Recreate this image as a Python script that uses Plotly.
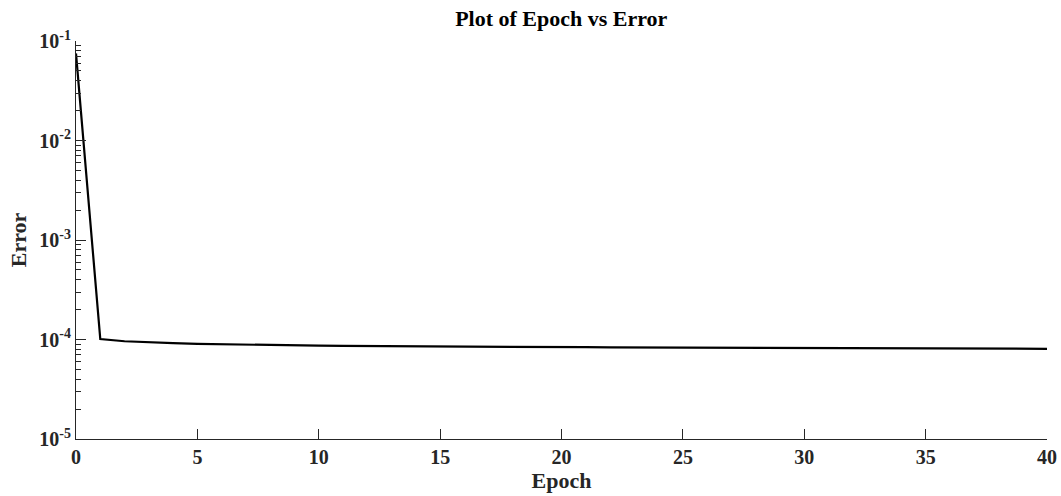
import plotly.graph_objects as go

epochs = list(range(0, 41))
errors = [
    7.5e-2, 1.01e-4, 0.96e-4, 0.935e-4, 0.92e-4, 0.905e-4, 0.895e-4, 0.888e-4,
    0.880e-4, 0.873e-4, 0.866e-4, 0.862e-4, 0.858e-4, 0.855e-4, 0.852e-4,
    0.849e-4, 0.847e-4, 0.845e-4, 0.843e-4, 0.841e-4, 0.839e-4, 0.837e-4,
    0.835e-4, 0.833e-4, 0.831e-4, 0.829e-4, 0.827e-4, 0.826e-4, 0.824e-4,
    0.822e-4, 0.821e-4, 0.819e-4, 0.818e-4, 0.816e-4, 0.815e-4, 0.813e-4,
    0.812e-4, 0.810e-4, 0.809e-4, 0.807e-4, 0.806e-4,
]
x_ticks = [0, 5, 10, 15, 20, 25, 30, 35, 40]
y_tickvals = [1e-5, 1e-4, 1e-3, 1e-2, 1e-1]
y_ticktext = ["10<sup>-5</sup>", "10<sup>-4</sup>", "10<sup>-3</sup>", "10<sup>-2</sup>", "10<sup>-1</sup>"]
minor_vals = [k * d for d in y_tickvals[:-1] for k in range(2, 10)]

FONT = "Liberation Serif, Times New Roman, serif"
AX = "#262626"

fig = go.Figure()
fig.add_trace(go.Scatter(x=epochs, y=errors, mode="lines",
                         line=dict(color="black", width=2.2), showlegend=False))

fig.update_layout(
    width=1061, height=496,
    margin=dict(l=76, r=14, t=41, b=57),
    paper_bgcolor="white", plot_bgcolor="white",
    font=dict(family=FONT, size=20, color="#262626", weight="bold"),
    title=dict(text="Plot of Epoch vs Error", x=0.529, xanchor="center",
               y=0.963, yanchor="middle",
               font=dict(family=FONT, size=22, color="black", weight="bold")),
)
fig.update_xaxes(
    range=[0, 40], tickvals=x_ticks, ticks="inside", ticklen=10, tickwidth=1,
    tickcolor=AX, showline=True, linecolor=AX, linewidth=1, showgrid=False,
    zeroline=False, mirror=False, automargin=False,
    title=dict(text="Epoch", standoff=4,
               font=dict(family=FONT, size=22, color="#262626", weight="bold")),
    tickfont=dict(family=FONT, size=20, color="#262626", weight="bold"),
)
fig.update_yaxes(
    type="log", range=[-5, -1], tickvals=y_tickvals, ticktext=y_ticktext,
    ticks="inside", ticklen=10, tickwidth=1, tickcolor=AX,
    minor=dict(tickvals=minor_vals, ticks="inside", ticklen=5, tickcolor=AX,
               tickwidth=1, showgrid=False),
    showline=True, linecolor=AX, linewidth=1, showgrid=False, zeroline=False,
    mirror=False, automargin=False,
    title=dict(text="Error", standoff=6,
               font=dict(family=FONT, size=22, color="#262626", weight="bold")),
    tickfont=dict(family=FONT, size=20, color="#262626", weight="bold"),
)

fig.write_html("out.html")
